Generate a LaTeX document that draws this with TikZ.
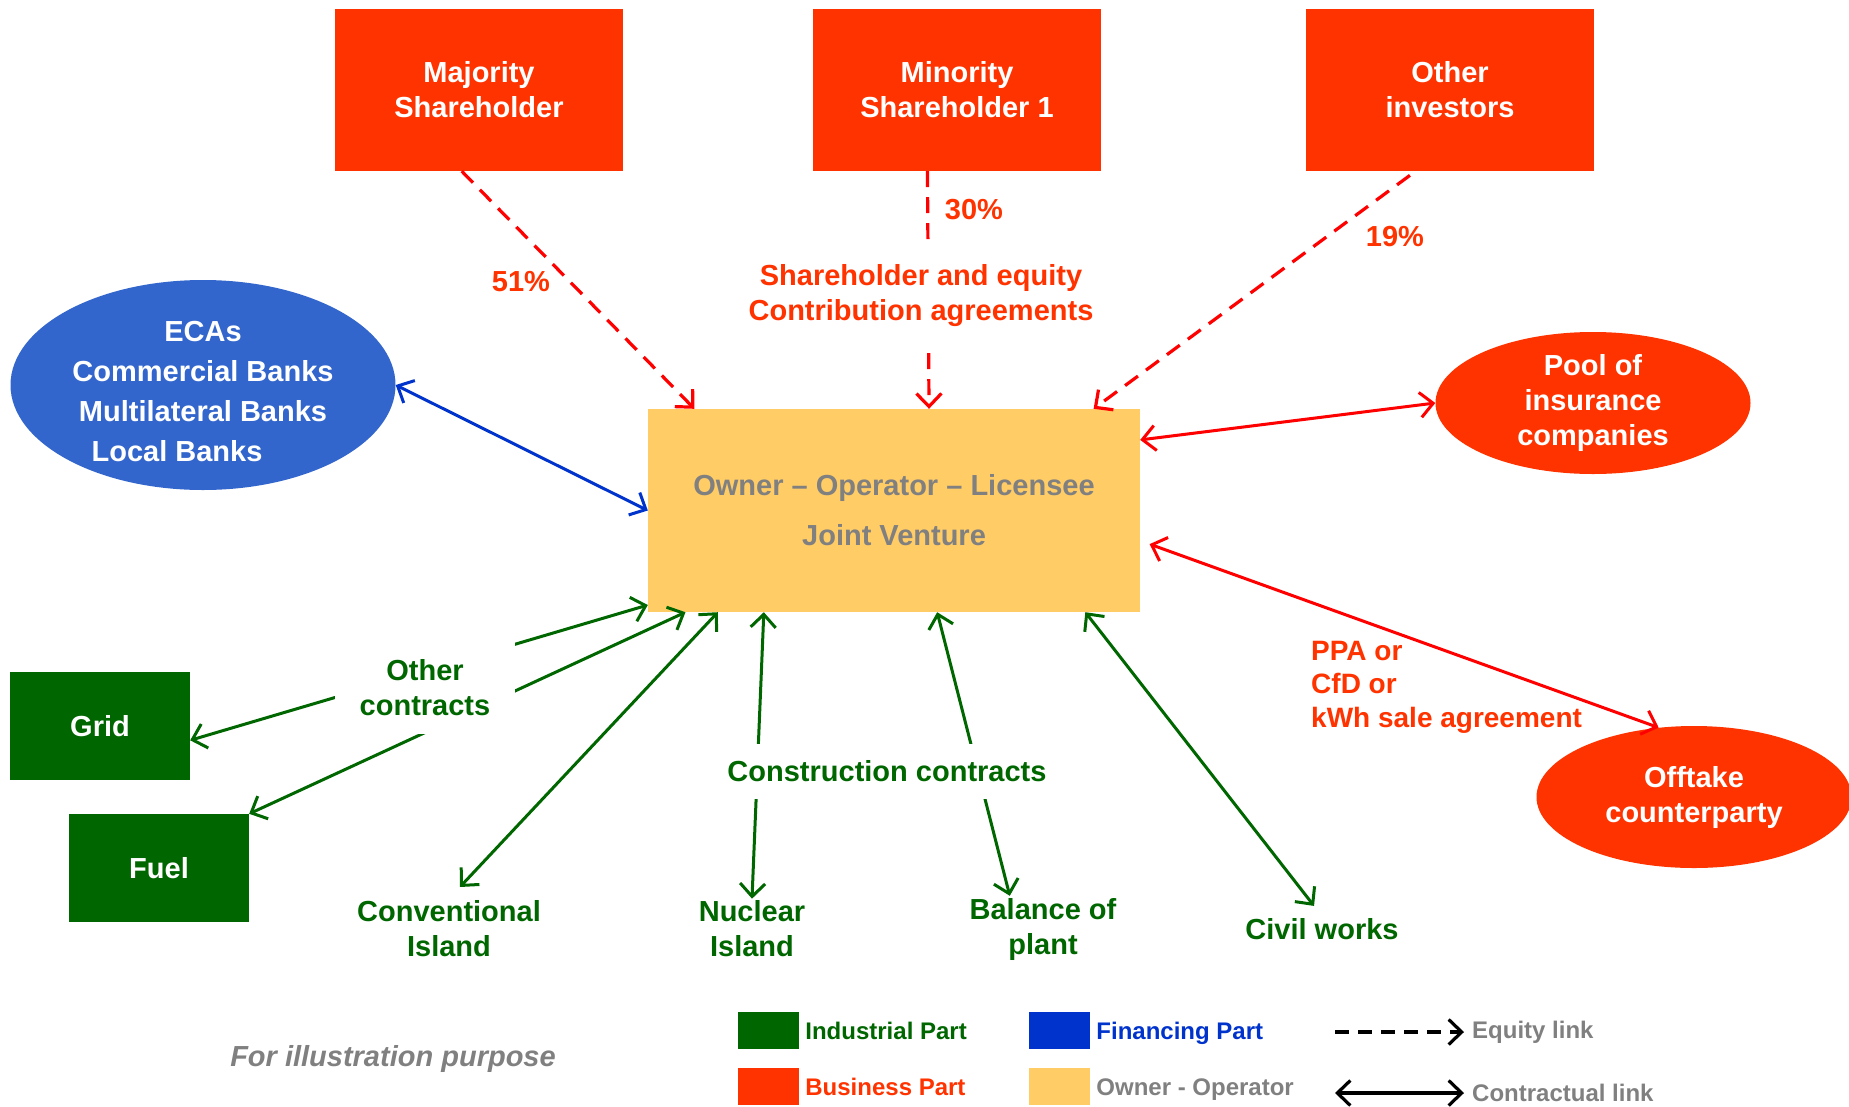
\documentclass[tikz,border=0pt]{standalone}
\usepackage{fontspec}
\setmainfont{Liberation Sans}
\usepackage{tikz}
\usetikzlibrary{positioning, shapes.geometric, arrows.meta}

\definecolor{bizred}{HTML}{FF3300}
\definecolor{linkred}{HTML}{FF0000}
\definecolor{bankblue}{HTML}{3366CC}
\definecolor{finblue}{HTML}{0033CC}
\definecolor{indgreen}{HTML}{006600}
\definecolor{jvyellow}{HTML}{FFCC66}
\definecolor{txtgray}{HTML}{808080}

\newcommand{\bigfont}{\fontsize{29}{35}\selectfont\bfseries}
\newcommand{\legfont}{\fontsize{24}{28}\selectfont\bfseries}

\tikzset{
  holder/.style={rectangle, fill=bizred, text=white, font=\bigfont, align=center, minimum width=288pt, minimum height=162pt},
  party/.style={ellipse, fill=#1, text=white, font=\bigfont, align=center, inner sep=0pt},
  plant/.style={rectangle, fill=indgreen, text=white, font=\bigfont, minimum width=180pt, minimum height=108pt},
  works/.style={text=indgreen, font=\bigfont, align=center, inner sep=2pt},
  gaplabel/.style={fill=white, font=\bigfont, align=center},
  pct/.style={text=bizred, font=\bigfont},
  equity/.style={->, linkred, line width=3.2pt, dash pattern=on 16pt off 10pt},
  contract/.style={<->, line width=3pt},
  legbox/.style={rectangle, minimum width=61pt, minimum height=37pt, inner sep=0pt},
  legtext/.style={anchor=west, font=\legfont, inner sep=0pt}
}

\begin{document}
\begin{tikzpicture}[x=1pt,y=-1pt,>={Straight Barb[length=13pt,width=25pt]}]
\useasboundingbox (0,0) rectangle (1849,1106);

% shareholders
\node[holder] (major) at (479,90) {Majority\\Shareholder};
\node[holder] (minor) at (957,90) {Minority\\Shareholder 1};
\node[holder] (others) at (1450,90) {Other\\investors};

% joint venture
\node[rectangle, fill=jvyellow, text=txtgray, font=\bigfont, align=center, minimum width=492pt, minimum height=203pt] (jv) at (894,510.5) {Owner – Operator – Licensee\\[15pt]Joint Venture};

% lenders and counterparties
\node[party=bankblue, inner ysep=-9pt, minimum width=385pt, minimum height=210pt, font=\fontsize{29}{40}\selectfont\bfseries] (banks) at (203,385) {\rule{0pt}{33pt}ECAs\\Commercial Banks\\Multilateral Banks\\Local Banks\hspace*{52pt}};
\node[party=bizred, minimum width=315pt, minimum height=142pt] (pool) at (1593,403) {Pool of\\insurance\\companies};
\node[party=bizred, minimum width=315pt, minimum height=142pt] (offtake) at (1694,797) {Offtake\\counterparty};

% industrial side
\node[plant] (grid) at (100,726) {Grid};
\node[plant] (fuel) at (159,868) {Fuel};
\node[works] (conv) at (449,929) {Conventional\\Island};
\node[works] (nuc) at (752,929) {Nuclear\\Island};
\node[works] (bop) at (1043,929) {Balance of\\plant};
\node[works] (civil) at (1322,929) {Civil works};

% equity links
\draw[equity] (major.258) -- (jv.153);
\draw[equity] (minor.250) -- (jv.71.5);
\draw[equity, shorten <=7pt] (others.247) -- (jv.27);

% contractual links
\draw[contract, finblue] (banks.east) -- (jv.west);
\draw[contract, linkred] (jv.16) -- (pool.west);
\draw[contract, linkred, shorten <=10pt] (jv.-7.5) -- (offtake.117);
\draw[contract, indgreen] (grid.-9) -- (jv.201);
\draw[contract, indgreen] (fuel.north east) -- (jv.206);
\draw[contract, indgreen, shorten >=16pt] (jv.210) -- (conv.north);
\draw[contract, indgreen] (jv.218.6) -- (nuc.north);
\draw[contract, indgreen] (jv.293.4) -- (bop.135);
\draw[contract, indgreen, shorten >=13pt] (jv.-28.4) -- (civil.north);

% labels over the links
\node[gaplabel, text=bizred, minimum height=103pt] (agree) at (921,296) {Shareholder and equity\\Contribution agreements};
\node[gaplabel, text=indgreen, minimum width=180pt, minimum height=92pt] (othercon) at (425,688) {Other\\contracts};
\node[gaplabel, text=indgreen, minimum height=55pt, inner xsep=4pt] (build) at (887,771) {Construction contracts};
\node[pct] (p51) at (521,282) {51\%};
\node[pct] (p30) at (974,210) {30\%};
\node[pct] (p19) at (1395,237) {19\%};
\node[anchor=west, inner sep=0pt, text=bizred, font=\fontsize{28}{33.5}\selectfont\bfseries, align=left] (ppa) at (1311,687) {PPA or\\CfD or\\kWh sale agreement};

% legend
\node[legbox, fill=indgreen] (lgind) at (768.5,1030.5) {};
\node[legtext, text=indgreen, right=6pt of lgind] (tind) {Industrial Part};
\node[legbox, fill=bizred] (lgbiz) at (768.5,1086.5) {};
\node[legtext, text=bizred, right=6pt of lgbiz] (tbiz) {Business Part};
\node[legbox, fill=finblue] (lgfin) at (1059.5,1030.5) {};
\node[legtext, text=finblue, right=6pt of lgfin, yshift=-3pt] (tfin) {Financing Part};
\node[legbox, fill=jvyellow] (lgjv) at (1059.5,1086.5) {};
\node[legtext, text=txtgray, right=6pt of lgjv, yshift=-3pt] (tjv) {Owner - Operator};

\coordinate (eqstart) at (1335,1032);
\node[legtext, text=txtgray] (teq) at (1472,1032) {Equity link};
\draw[->, line width=3.2pt, dash pattern=on 14pt off 9pt, shorten >=8pt] (eqstart) -- (teq.west);
\coordinate (ctstart) at (1335,1093);
\node[legtext, text=txtgray] (tct) at (1472,1093) {Contractual link};
\draw[<->, line width=3.2pt, shorten >=8pt] (ctstart) -- (tct.west);

\node[text=txtgray, font=\bigfont\itshape] (note) at (393,1059) {For illustration purpose};
\end{tikzpicture}
\end{document}
